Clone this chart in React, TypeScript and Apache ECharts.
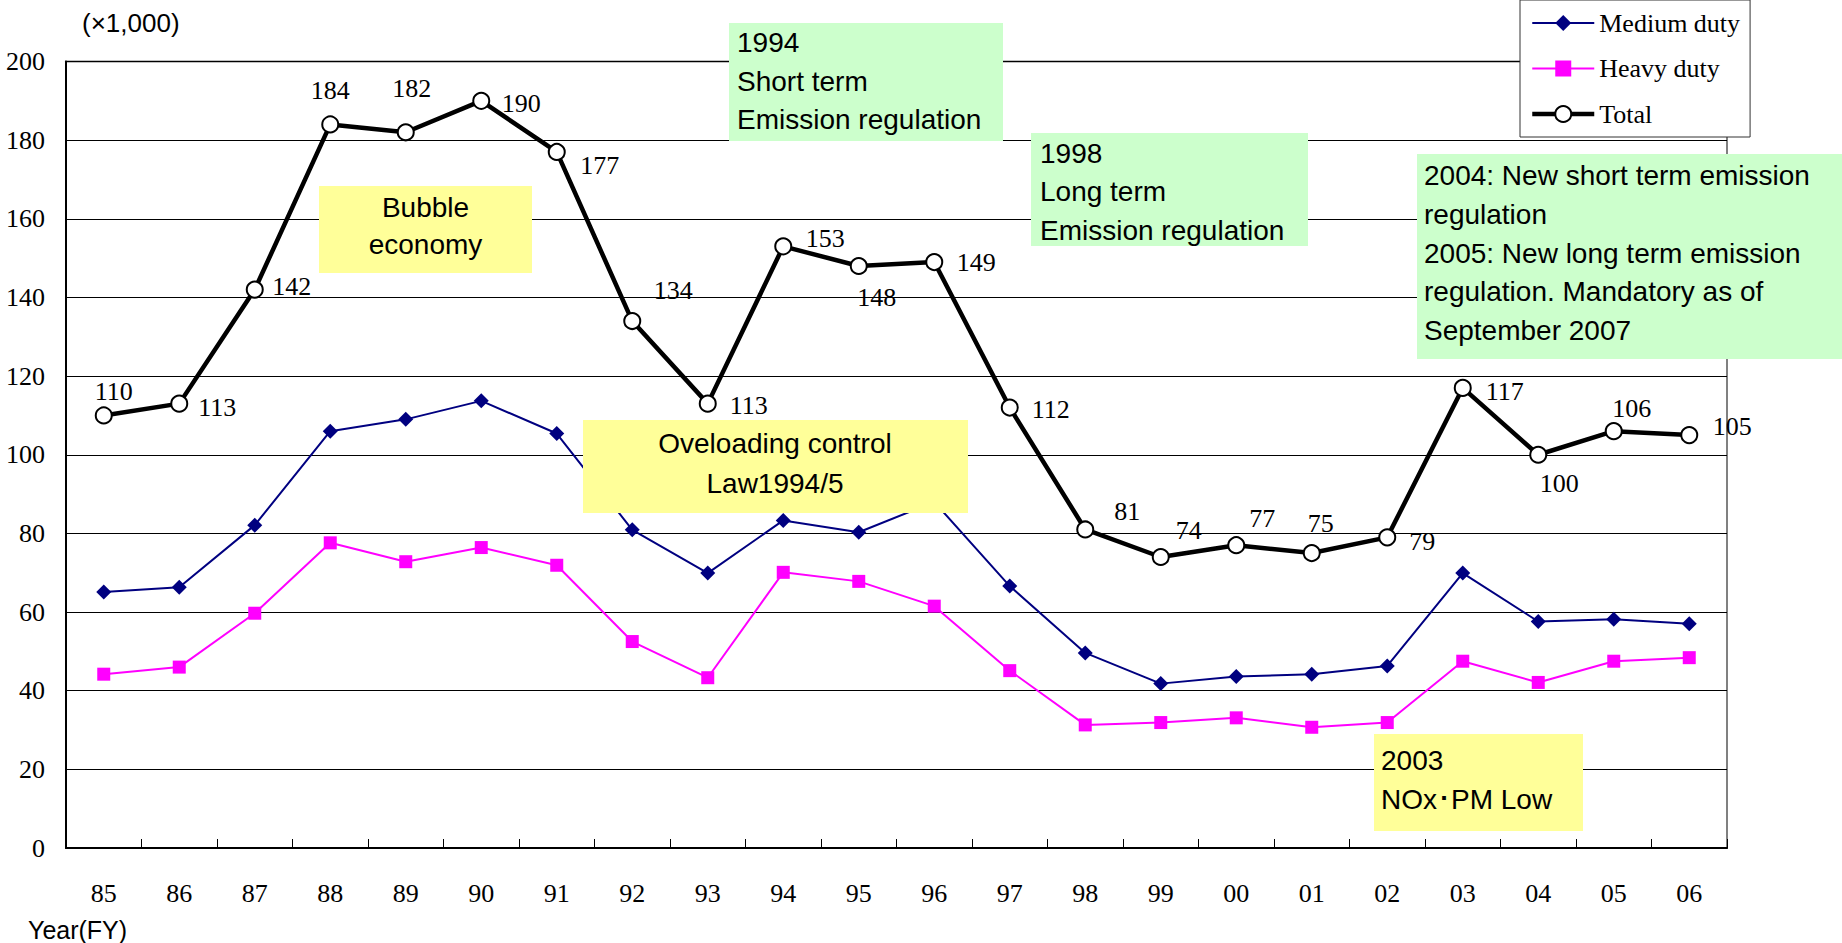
import React, { useEffect, useRef } from "react";
import * as echarts from "echarts";

const years = ["85", "86", "87", "88", "89", "90", "91", "92", "93", "94", "95", "96", "97", "98", "99", "00", "01", "02", "03", "04", "05", "06"];
const medium = [65.1, 66.3, 82.1, 106, 109, 113.7, 105.4, 80.9, 69.9, 83.3, 80.3, 88, 66.6, 49.6, 41.8, 43.6, 44.2, 46.3, 69.9, 57.6, 58.2, 57];
const heavy = [44.2, 46, 59.7, 77.6, 72.8, 76.4, 71.9, 52.5, 43.3, 70.1, 67.8, 61.5, 45.1, 31.3, 31.9, 33.1, 30.7, 31.9, 47.5, 42.1, 47.5, 48.4];
const total = [110, 113, 142, 184, 182, 190, 177, 134, 113, 153, 148, 149, 112, 81, 74, 77, 75, 79, 117, 100, 106, 105];
const seriesNames = ["Medium duty", "Heavy duty", "Total"];

// label placement offsets (style only) for the Total series labels
const totalLabelOffsets = [
  [10, -24], [38, 4], [37, -3], [0, -34], [6, -44], [40, 3], [43, 14], [41, -31],
  [41, 2], [42, -8], [18, 32], [42, 0], [41, 2], [42, -18], [28, -26], [26, -27],
  [9, -30], [35, 4], [42, 4], [21, 29], [18, -23], [43, -9],
];

const SERIF = '"Liberation Serif", "Times New Roman", serif';
const SANS = '"Liberation Sans", Arial, sans-serif';

const notes = [
  { text: "Bubble\neconomy", box: [319, 186, 213, 87], fill: "#FFFF99", tx: 425.5, ty: 189, align: "center", lh: 37 },
  { text: "1994\nShort term\nEmission regulation", box: [729, 23, 274, 118], fill: "#CCFFCC", tx: 737, ty: 23.5, align: "left", lh: 38.4 },
  { text: "1998\nLong term\nEmission regulation", box: [1031, 133, 277, 113], fill: "#CCFFCC", tx: 1040, ty: 134, align: "left", lh: 38.4 },
  { text: "2004: New short term emission\nregulation\n2005: New long term emission\nregulation. Mandatory as of\nSeptember 2007", box: [1417, 154, 425, 205], fill: "#CCFFCC", tx: 1424, ty: 156.5, align: "left", lh: 38.7 },
  { text: "Oveloading control\nLaw1994/5", box: [583, 420, 385, 93], fill: "#FFFF99", tx: 775, ty: 424, align: "center", lh: 39.4 },
  { text: "2003\nNOx･PM Low", box: [1374, 734, 209, 97], fill: "#FFFF99", tx: 1381, ty: 741, align: "left", lh: 39.3 },
];

export default function App() {
  const ref = useRef<HTMLDivElement>(null);
  useEffect(() => {
    const chart = echarts.init(ref.current!, null, { renderer: "svg" });
    const graphics: any[] = [];
    notes.forEach((n) => {
      graphics.push({
        type: "rect",
        shape: { x: n.box[0], y: n.box[1], width: n.box[2], height: n.box[3] },
        style: { fill: n.fill },
        z: 100,
      });
      graphics.push({
        type: "text",
        x: n.tx,
        y: n.ty,
        z: 101,
        style: {
          text: n.text,
          font: `28px ${SANS}`,
          fill: "#000",
          align: n.align,
          textAlign: n.align,
          verticalAlign: "top",
          textVerticalAlign: "top",
          lineHeight: n.lh,
        },
      });
    });
    graphics.push({
      type: "text",
      x: 82,
      y: 23,
      z: 101,
      style: { text: "(×1,000)", font: `26px ${SANS}`, fill: "#000", verticalAlign: "middle", textVerticalAlign: "middle" },
    });
    graphics.push({
      type: "text",
      x: 28,
      y: 930,
      z: 101,
      style: { text: "Year(FY)", font: `25px ${SANS}`, fill: "#000", verticalAlign: "middle", textVerticalAlign: "middle" },
    });

    chart.setOption({
      animation: false,
      backgroundColor: "#fff",
      grid: {
        left: 66,
        right: 115,
        top: 61.5,
        bottom: 95,
        show: true,
        borderColor: "#808080",
        borderWidth: 2,
        backgroundColor: "transparent",
      },
      legend: {
        data: [
          { name: seriesNames[0] },
          { name: seriesNames[1] },
          { name: seriesNames[2], lineStyle: { width: 4.5, color: "#000" } },
        ],
        orient: "vertical",
        left: 1520,
        top: 0,
        padding: [10, 10, 10, 10],
        itemGap: 19.5,
        itemWidth: 62,
        itemHeight: 20,
        backgroundColor: "#fff",
        borderColor: "#333",
        borderWidth: 1,
        z: 110,
        textStyle: { fontFamily: SERIF, fontSize: 26, color: "#000", lineHeight: 26 },
      },
      xAxis: {
        type: "category",
        data: years,
        boundaryGap: true,
        axisLine: { lineStyle: { color: "#000", width: 2 } },
        axisTick: { show: true, inside: true, length: 9, interval: 0, lineStyle: { color: "#000", width: 1 } },
        axisLabel: { fontFamily: SERIF, fontSize: 26, color: "#000", margin: 32, interval: 0 },
        splitLine: { show: false },
      },
      yAxis: {
        type: "value",
        min: 0,
        max: 200,
        interval: 20,
        axisLine: { show: true, lineStyle: { color: "#000", width: 2 } },
        axisTick: { show: false },
        axisLabel: { fontFamily: SERIF, fontSize: 26, color: "#000", margin: 21 },
        splitLine: { show: true, lineStyle: { color: "#000", width: 1 } },
      },
      series: [
        {
          name: seriesNames[0],
          type: "line",
          data: medium,
          symbol: "diamond",
          symbolSize: 15,
          lineStyle: { color: "#000080", width: 2 },
          itemStyle: { color: "#000080" },
          z: 3,
        },
        {
          name: seriesNames[1],
          type: "line",
          data: heavy,
          symbol: "rect",
          symbolSize: 13,
          lineStyle: { color: "#FF00FF", width: 2 },
          itemStyle: { color: "#FF00FF" },
          z: 3,
        },
        {
          name: seriesNames[2],
          type: "line",
          data: total.map((v, i) => ({ value: v, label: { offset: totalLabelOffsets[i] } })),
          symbol: "circle",
          symbolSize: 16,
          lineStyle: { color: "#000", width: 4.5 },
          itemStyle: { color: "#fff", borderColor: "#000", borderWidth: 2 },
          label: {
            show: true,
            position: "inside",
            formatter: "{c}",
            fontFamily: SERIF,
            fontSize: 26,
            color: "#000",
          },
          z: 4,
        },
      ],
      graphic: graphics,
    });
    return () => chart.dispose();
  }, []);
  return <div ref={ref} style={{ position: "absolute", left: 0, top: 0, width: 1842, height: 943 }} />;
}
